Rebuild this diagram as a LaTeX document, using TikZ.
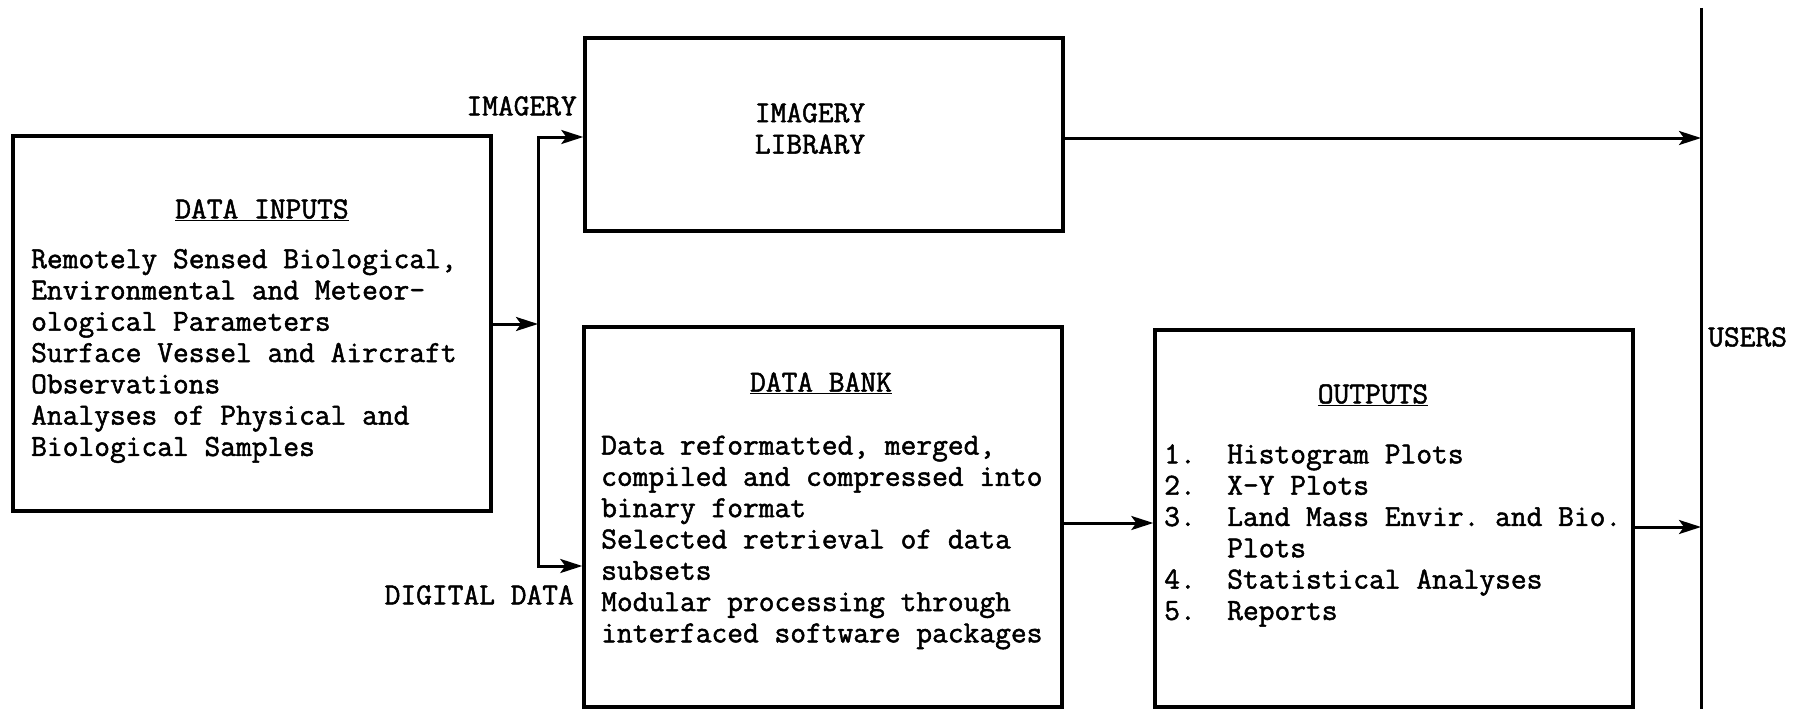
\documentclass[tikz,border=0pt]{standalone}
\usepackage{fontspec}
\newfontfamily\tw[FakeBold=1.6]{Latin Modern Mono}
\usetikzlibrary{arrows.meta}
\frenchspacing
\tikzset{
  box/.style={draw, line width=3.4pt, minimum width=#1, inner sep=0},
  txt/.style={font=\tw\fontsize{30.6}{31.3}\selectfont\frenchspacing, inner sep=0, align=left},
  lbl/.style={font=\tw\fontsize{30.6}{31.3}\selectfont\frenchspacing, inner sep=0},
  arr/.style={line width=3pt, -{Stealth[length=22pt,width=14pt,inset=5pt]}},
  ln/.style={line width=3pt}
}
\begin{document}
\begin{tikzpicture}[x=1pt,y=-1pt]
\useasboundingbox (0,0) rectangle (1804,709);
% boxes
\node[box=478pt, minimum height=375pt] (inp) at (252,323.5) {};
\node[box=478pt, minimum height=193pt] (lib) at (824,134.5) {};
\node[box=478pt, minimum height=380pt] (bank) at (823,517) {};
\node[box=478pt, minimum height=377pt] (out) at (1394,518.5) {};
% texts
\node[lbl] (inph) at (262,210) {\underline{DATA INPUTS}};
\node[txt, anchor=west] (inpt) at (31,356) {Remotely Sensed Biological,\\Environmental and Meteor-\\ological Parameters\\Surface Vessel and Aircraft\\Observations\\Analyses of Physical and\\Biological Samples};
\node[txt, align=center] (libt) at (810,128.5) {IMAGERY\\LIBRARY};
\node[lbl] (bankh) at (821,383) {\underline{DATA BANK}};
\node[txt, anchor=west] (bankt) at (601,542.5) {Data reformatted, merged,\\compiled and compressed into\\binary format\\Selected retrieval of data\\subsets\\Modular processing through\\interfaced software packages};
\node[lbl] (outh) at (1373,395) {\underline{OUTPUTS}};
\node[txt, anchor=west] (outt) at (1164,535.5) {1.\ \ Histogram Plots\\2.\ \ X-Y Plots\\3.\ \ Land Mass Envir. and Bio.\\\phantom{3.\ \ }Plots\\4.\ \ Statistical Analyses\\5.\ \ Reports};
\node[lbl, anchor=east] (imgl) at (577,106) {IMAGERY};
\node[lbl, anchor=east] (digl) at (574,595) {DIGITAL DATA};
\node[lbl, anchor=west] (usl) at (1708,337) {USERS};
% connectors
\coordinate (j) at (538,324);
\coordinate (jt) at (538,137);
\coordinate (jb) at (538,566);
\coordinate (ut) at (1701,8);
\coordinate (ub) at (1701,709);
\coordinate (a0) at (0,138);
\coordinate (a1) at (0,523);
\coordinate (a2) at (0,527);
\draw[ln] (ut) -- (ub);
\draw[arr] (inp.east |- j) -- (j);
\draw[arr] (j) -- (jt) -- (lib.west |- jt);
\draw[arr] (j) -- (jb) -- (bank.west |- jb);
\draw[arr] (lib.east |- a0) -- (ut |- a0);
\draw[arr] (bank.east |- a1) -- (out.west |- a1);
\draw[arr] (out.east |- a2) -- (ut |- a2);
\end{tikzpicture}
\end{document}
